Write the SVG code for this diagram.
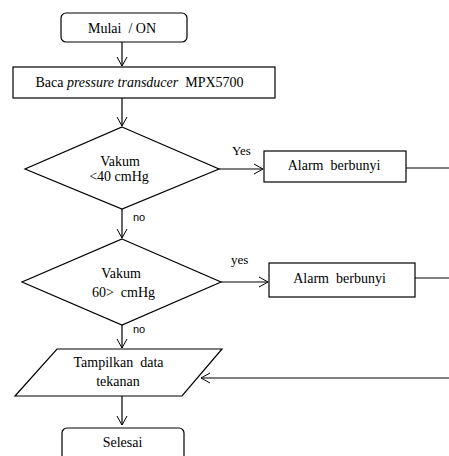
<svg xmlns="http://www.w3.org/2000/svg" width="449" height="456" viewBox="0 0 449 456">
<defs>
<marker id="arr" markerWidth="12" markerHeight="12" refX="10" refY="6" orient="auto" markerUnits="userSpaceOnUse">
<path d="M1,1 L10,6 L1,11" fill="none" stroke="#000" stroke-width="1"/>
</marker>
</defs>
<rect width="449" height="456" fill="#fff"/>
<g id="connectors" fill="none" stroke="#000" stroke-width="1.2">
<path d="M122,42 V66" marker-end="url(#arr)"/>
<path d="M122,98 V126" marker-end="url(#arr)"/>
<path d="M219,169 H263" marker-end="url(#arr)"/>
<path d="M406,168 H449"/>
<path d="M122,209 V238" marker-end="url(#arr)"/>
<path d="M221,282 H268" marker-end="url(#arr)"/>
<path d="M415,278 H449"/>
<path d="M122,325 V348" marker-end="url(#arr)"/>
<path d="M449,378 H201" marker-end="url(#arr)"/>
<path d="M122,396 V425" marker-end="url(#arr)"/>
</g>
<g id="labels" fill="#000" stroke="none">
<text x="232" y="155" font-family="Liberation Serif, serif" font-size="13">Yes</text>
<text x="133" y="221" font-family="Liberation Sans, sans-serif" font-size="11">no</text>
<text x="231" y="264" font-family="Liberation Serif, serif" font-size="13">yes</text>
<text x="133" y="333" font-family="Liberation Sans, sans-serif" font-size="11">no</text>
</g>
<g id="start">
<rect x="61" y="13" width="126" height="29" rx="5" fill="#fff" stroke="#000" stroke-width="1.2"/>
<text x="122" y="33" font-family="Liberation Serif, serif" font-size="14" text-anchor="middle" xml:space="preserve">Mulai  / ON</text>
</g>
<g id="read">
<rect x="13" y="67" width="262" height="31" fill="#fff" stroke="#000" stroke-width="1.2"/>
<text x="139.5" y="87" font-family="Liberation Serif, serif" font-size="14" text-anchor="middle" xml:space="preserve">Baca <tspan font-style="italic">pressure transducer</tspan>  MPX5700</text>
</g>
<g id="decision1">
<path d="M122,127 L219,169 L122,209 L25,169 Z" fill="#fff" stroke="#000" stroke-width="1.2"/>
<text x="120" y="166" font-family="Liberation Serif, serif" font-size="14" text-anchor="middle">Vakum</text>
<text x="119" y="181" font-family="Liberation Serif, serif" font-size="14" text-anchor="middle">&lt;40 cmHg</text>
</g>
<g id="alarm1">
<rect x="264" y="151" width="142" height="31" fill="#fff" stroke="#000" stroke-width="1.2"/>
<text x="334" y="170" font-family="Liberation Serif, serif" font-size="14" text-anchor="middle" xml:space="preserve">Alarm  berbunyi</text>
</g>
<g id="decision2">
<path d="M122,239 L221,282 L122,325 L22,282 Z" fill="#fff" stroke="#000" stroke-width="1.2"/>
<text x="121" y="278" font-family="Liberation Serif, serif" font-size="14" text-anchor="middle">Vakum</text>
<text x="123.5" y="297" font-family="Liberation Serif, serif" font-size="14" text-anchor="middle" xml:space="preserve">60&gt;  cmHg</text>
</g>
<g id="alarm2">
<rect x="269" y="263" width="146" height="34" fill="#fff" stroke="#000" stroke-width="1.2"/>
<text x="339.5" y="283" font-family="Liberation Serif, serif" font-size="14" text-anchor="middle" xml:space="preserve">Alarm  berbunyi</text>
</g>
<g id="display">
<path d="M57,349 L222,349 L182,396 L15,396 Z" fill="#fff" stroke="#000" stroke-width="1.2"/>
<text x="118.5" y="367" font-family="Liberation Serif, serif" font-size="14" text-anchor="middle" xml:space="preserve">Tampilkan  data</text>
<text x="118" y="386" font-family="Liberation Serif, serif" font-size="14" text-anchor="middle">tekanan</text>
</g>
<g id="end">
<rect x="62" y="428" width="122" height="34" rx="5" fill="#fff" stroke="#000" stroke-width="1.2"/>
<text x="122.5" y="447" font-family="Liberation Serif, serif" font-size="14" text-anchor="middle">Selesai</text>
</g>
</svg>
